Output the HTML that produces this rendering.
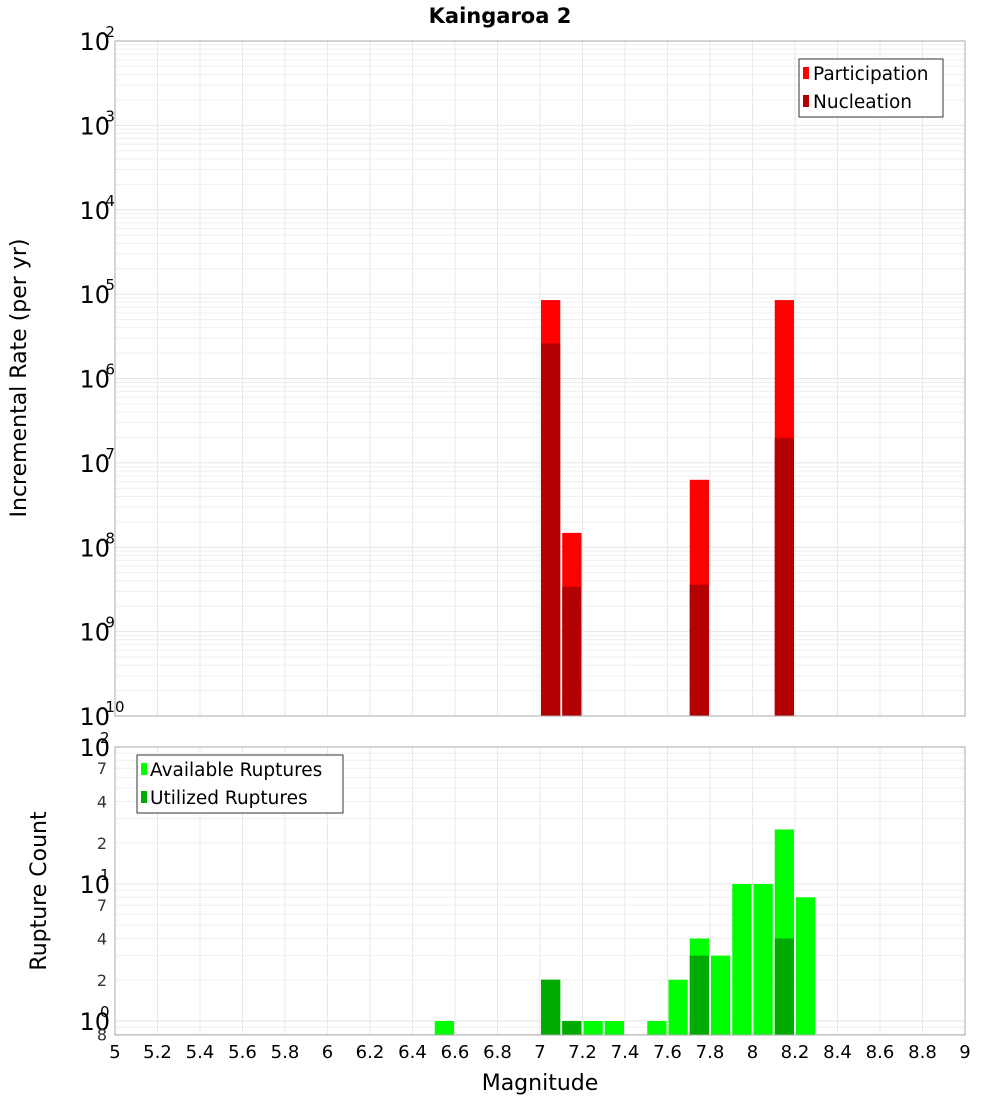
<!DOCTYPE html>
<html><head><meta charset="utf-8"><style>
body{margin:0;background:#fff;}
svg text{font-family:"DejaVu Sans","Liberation Sans",sans-serif;}
</style></head><body>
<svg id="c" width="1000" height="1100" xmlns="http://www.w3.org/2000/svg">
<g id="gtop"></g>
<g id="gbot"></g>
<text x="500" y="23" text-anchor="middle" font-size="21" font-weight="bold">Kaingaroa 2</text>
<text transform="translate(26,378) rotate(-90)" text-anchor="middle" font-size="22">Incremental Rate (per yr)</text>
<text transform="translate(46,891) rotate(-90)" text-anchor="middle" font-size="22">Rupture Count</text>
<text x="540" y="1090" text-anchor="middle" font-size="22">Magnitude</text>
<g>
<rect x="799" y="59" width="144" height="58" fill="#fff" stroke="#333"/>
<rect x="803" y="67" width="6" height="12" fill="#ff0000"/><text x="813" y="80" font-size="18.5">Participation</text>
<rect x="803" y="95" width="6" height="12" fill="#b30000"/><text x="813" y="108" font-size="18.5">Nucleation</text>
</g>
<g>
<rect x="137" y="755" width="206" height="58" fill="#fff" stroke="#333"/>
<rect x="141" y="763" width="6" height="12" fill="#00ff00"/><text x="150" y="776" font-size="18.5">Available Ruptures</text>
<rect x="141" y="791" width="6" height="12" fill="#00aa00"/><text x="150" y="804" font-size="18.5">Utilized Ruptures</text>
</g>
</svg>
<script>
const rateMags=[7.05,7.15,7.75,8.15];
const participation=[8.5e-6,1.48e-8,6.3e-8,8.5e-6];
const nucleation=[2.6e-6,3.4e-9,3.6e-9,1.95e-7];
const countMags=[6.55,7.05,7.15,7.25,7.35,7.55,7.65,7.75,7.85,7.95,8.05,8.15,8.25];
const available=[1,2,1,1,1,1,2,4,3,10,10,25,8];
const utilized=[0,2,1,0,0,0,0,3,0,0,0,4,0];
const xTicks=[5,5.2,5.4,5.6,5.8,6,6.2,6.4,6.6,6.8,7,7.2,7.4,7.6,7.8,8,8.2,8.4,8.6,8.8,9];
const rateDecades=[-2,-3,-4,-5,-6,-7,-8,-9,-10];
const countDecades=[2,1,0];

(function(){
const NS="http://www.w3.org/2000/svg";
const X0=115,X1=965;
const x=m=>X0+(m-5)/4*(X1-X0);
const T0=41,T1=716;
const yT=v=>T0+(-2-Math.log10(v))*(T1-T0)/8;
const B0=747,B1=1035,BD=137;
const yB=v=>B0+(2-Math.log10(v))*BD;
function el(p,t,a){const e=document.createElementNS(NS,t);for(const k in a)e.setAttribute(k,a[k]);p.appendChild(e);return e;}
const gTop=document.getElementById('gtop'),gBot=document.getElementById('gbot');

function frame(g,y0,y1,ymap,lo,hi){
  el(g,'rect',{x:X0,y:y0,width:X1-X0,height:y1-y0,fill:'#fff'});
  for(let d=lo;d<hi;d++)for(let k=1;k<10;k++){const v=k*Math.pow(10,d);const yy=ymap(v);if(yy<y0-0.5||yy>y1+0.5)continue;
    el(g,'line',{x1:X0,x2:X1,y1:yy,y2:yy,stroke:k==1?'#e4e4e4':'#efefef','stroke-width':1});}
  xTicks.forEach(t=>el(g,'line',{x1:x(t),x2:x(t),y1:y0,y2:y1,stroke:'#e8e8e8'}));
}
frame(gTop,T0,T1,yT,-10,-1);
frame(gBot,B0,B1,yB,-1,2);

rateMags.forEach((m,i)=>{
  const r=el(gTop,'rect',{x:x(m-0.05)+1,y:yT(participation[i]),width:x(m+0.05)-x(m-0.05)-2,height:T1-yT(participation[i]),fill:'#ff0000'});
  
  
  const n=el(gTop,'rect',{x:x(m-0.05)+1,y:yT(nucleation[i]),width:x(m+0.05)-x(m-0.05)-2,height:T1-yT(nucleation[i]),fill:'#b30000'});
  
  
});
countMags.forEach((m,i)=>{
  const r=el(gBot,'rect',{x:x(m-0.05)+1,y:yB(available[i]),width:x(m+0.05)-x(m-0.05)-2,height:B1-yB(available[i]),fill:'#00ff00'});
  
  
  if(utilized[i]>0){const u=el(gBot,'rect',{x:x(m-0.05)+1,y:yB(utilized[i]),width:x(m+0.05)-x(m-0.05)-2,height:B1-yB(utilized[i]),fill:'#00aa00'});
  
  }
});
el(gTop,'rect',{x:X0,y:T0,width:X1-X0,height:T1-T0,fill:'none',stroke:'#aaa'});
el(gBot,'rect',{x:X0,y:B0,width:X1-X0,height:B1-B0,fill:'none',stroke:'#aaa'});

function decadeLabel(g,yy,d){
  const t=el(g,'text',{x:X0-5,y:yy+9,'text-anchor':'end','font-size':24});
  
  
  t.textContent='10';
  const s=el(g,'text',{x:X0-15,y:yy-4,'font-size':15});
  
  
  s.textContent=String(d);
}
rateDecades.forEach(d=>decadeLabel(gTop,yT(Math.pow(10,d)),d));
countDecades.forEach(d=>decadeLabel(gBot,yB(Math.pow(10,d)),d));
[[70,'7'],[40,'4'],[20,'2'],[7,'7'],[4,'4'],[2,'2'],[0.8,'8']].forEach(([v,l])=>{
  const t=el(gBot,'text',{x:X0-8,y:yB(v)+6,'text-anchor':'end','font-size':16,fill:'#333'});
  
  
  t.textContent=l;
});
xTicks.forEach(t=>{
  const e=el(gBot,'text',{x:x(t),y:1058,'text-anchor':'middle','font-size':18});
  
  
  e.textContent=String(t);
});
})();
</script>
</body></html>
